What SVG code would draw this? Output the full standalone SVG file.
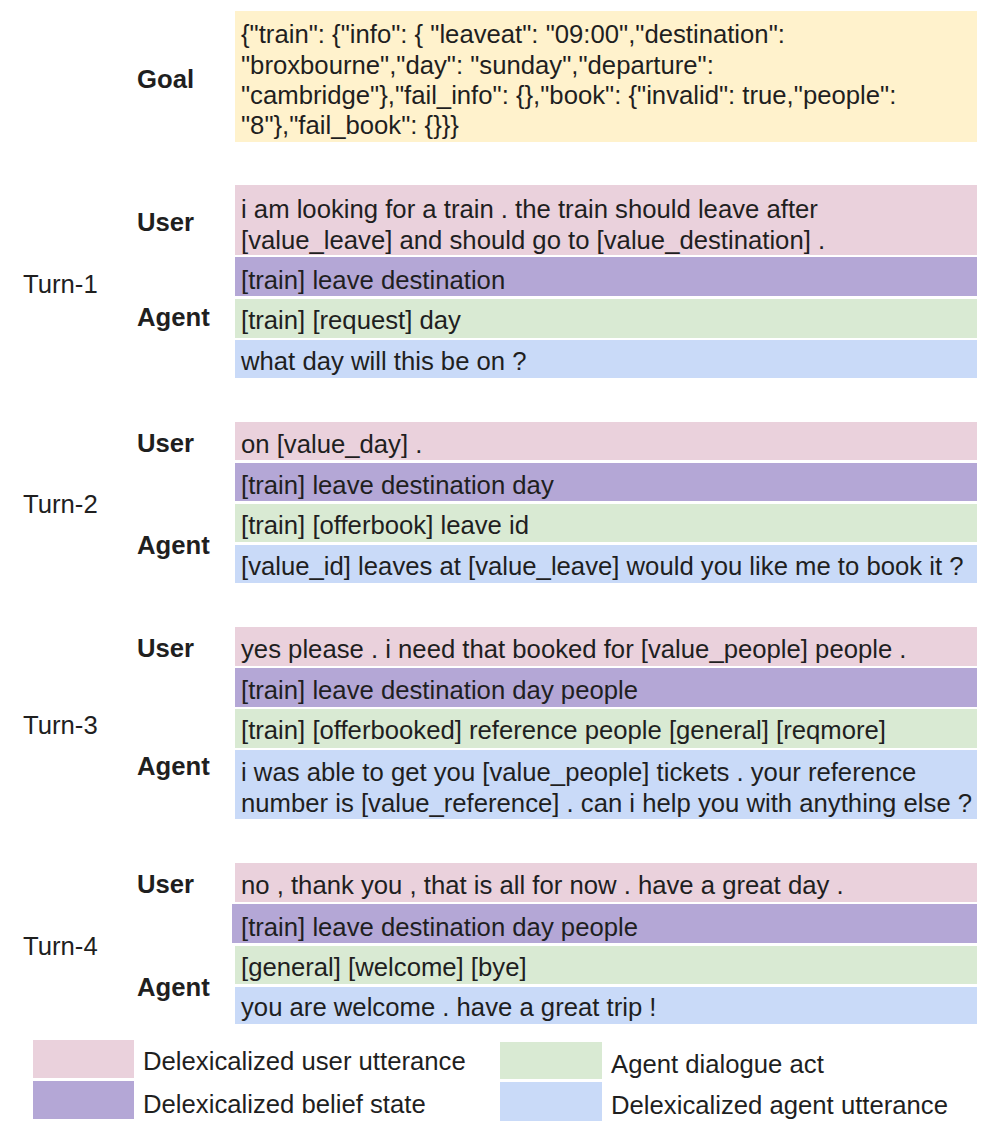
<svg xmlns="http://www.w3.org/2000/svg" width="987" height="1132" viewBox="0 0 987 1132">
<style>
text{font-family:"Liberation Sans",Arial,sans-serif;font-size:25.7px;fill:#1f1f1f}
.lab{font-weight:bold}
.goal{fill:#fff2cc}
.user{fill:#ead1dc}
.belief{fill:#b4a7d6}
.act{fill:#d9ead3}
.agent{fill:#c9daf8}
</style>
<rect width="987" height="1132" fill="#ffffff"/>
<g id="labels">
<text class="lab" x="137" y="88">Goal</text>
<text x="23" y="293">Turn-1</text>
<text class="lab" x="137" y="231">User</text>
<text class="lab" x="137" y="326">Agent</text>
<text x="23" y="513">Turn-2</text>
<text class="lab" x="137" y="452">User</text>
<text class="lab" x="137" y="554">Agent</text>
<text x="23" y="734">Turn-3</text>
<text class="lab" x="137" y="657">User</text>
<text class="lab" x="137" y="775">Agent</text>
<text x="23" y="955">Turn-4</text>
<text class="lab" x="137" y="893">User</text>
<text class="lab" x="137" y="996">Agent</text>
</g>
<g id="goal">
<rect class="goal" x="235" y="11" width="742" height="131"/>
<text x="241" y="43">{"train": {"info": { "leaveat": "09:00","destination":</text>
<text x="241" y="73.5">"broxbourne","day": "sunday","departure":</text>
<text x="241" y="104">"cambridge"},"fail_info": {},"book": {"invalid": true,"people":</text>
<text x="241" y="134">"8"},"fail_book": {}}}</text>
</g>
<g id="turn1-user">
<rect class="user" x="235" y="185" width="742" height="70"/>
<text x="241" y="218">i am looking for a train . the train should leave after</text>
<text x="241" y="249">[value_leave] and should go to [value_destination] .</text>
</g>
<g id="turn1-belief">
<rect class="belief" x="235" y="257" width="742" height="39"/>
<text x="241" y="289">[train] leave destination</text>
</g>
<g id="turn1-act">
<rect class="act" x="235" y="299" width="742" height="39"/>
<text x="241" y="329">[train] [request] day</text>
</g>
<g id="turn1-agent">
<rect class="agent" x="235" y="340" width="742" height="38"/>
<text x="241" y="370">what day will this be on ?</text>
</g>
<g id="turn2-user">
<rect class="user" x="235" y="422" width="742" height="38"/>
<text x="241" y="453">on [value_day] .</text>
</g>
<g id="turn2-belief">
<rect class="belief" x="235" y="463" width="742" height="38"/>
<text x="241" y="494">[train] leave destination day</text>
</g>
<g id="turn2-act">
<rect class="act" x="235" y="504" width="742" height="38"/>
<text x="241" y="534">[train] [offerbook] leave id</text>
</g>
<g id="turn2-agent">
<rect class="agent" x="235" y="545" width="742" height="38"/>
<text x="241" y="575">[value_id] leaves at [value_leave] would you like me to book it ?</text>
</g>
<g id="turn3-user">
<rect class="user" x="235" y="627" width="742" height="39"/>
<text x="241" y="658">yes please . i need that booked for [value_people] people .</text>
</g>
<g id="turn3-belief">
<rect class="belief" x="235" y="668" width="742" height="39"/>
<text x="241" y="699">[train] leave destination day people</text>
</g>
<g id="turn3-act">
<rect class="act" x="235" y="709" width="742" height="39"/>
<text x="241" y="739">[train] [offerbooked] reference people [general] [reqmore]</text>
</g>
<g id="turn3-agent">
<rect class="agent" x="235" y="750" width="742" height="69"/>
<text x="241" y="781">i was able to get you [value_people] tickets . your reference</text>
<text x="241" y="812">number is [value_reference] . can i help you with anything else ?</text>
</g>
<g id="turn4-user">
<rect class="user" x="235" y="863" width="742" height="39"/>
<text x="241" y="894">no , thank you , that is all for now . have a great day .</text>
</g>
<g id="turn4-belief">
<rect class="belief" x="232" y="904" width="745" height="39"/>
<text x="241" y="936">[train] leave destination day people</text>
</g>
<g id="turn4-act">
<rect class="act" x="235" y="946" width="742" height="38"/>
<text x="241" y="976">[general] [welcome] [bye]</text>
</g>
<g id="turn4-agent">
<rect class="agent" x="235" y="987" width="742" height="37"/>
<text x="241" y="1016">you are welcome . have a great trip !</text>
</g>
<g id="legend">
<rect class="user" x="33" y="1040" width="101" height="38"/>
<text x="143" y="1070">Delexicalized user utterance</text>
<rect class="belief" x="33" y="1081" width="101" height="38"/>
<text x="143" y="1113">Delexicalized belief state</text>
<rect class="act" x="500" y="1042" width="102" height="37"/>
<text x="611" y="1073">Agent dialogue act</text>
<rect class="agent" x="500" y="1082" width="102" height="39"/>
<text x="611" y="1114">Delexicalized agent utterance</text>
</g>
<g id="connectors"></g>
</svg>
